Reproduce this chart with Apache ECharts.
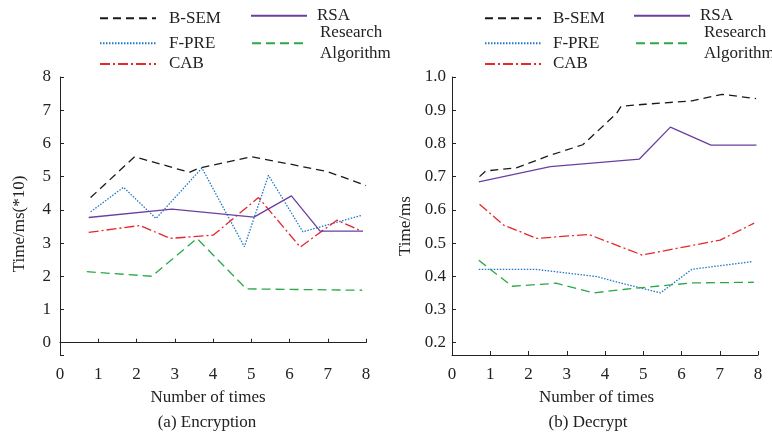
<!DOCTYPE html>
<html>
<head>
<meta charset="utf-8">
<script src="https://cdn.jsdelivr.net/npm/echarts@6/dist/echarts.min.js"></script>
<style>
html,body{margin:0;padding:0;background:#fff;}
#main{width:772px;height:433px;}
</style>
</head>
<body>
<div id="main"></div>
<script>
// ---- Data: [Number of times, Time] pairs ----
const seriesNames = ['B-SEM', 'F-PRE', 'CAB', 'RSA', 'Research Algorithm'];
const legendLabels = ['B-SEM', 'F-PRE', 'CAB', 'RSA', 'Research\nAlgorithm'];
const xTicks = [0, 1, 2, 3, 4, 5, 6, 7, 8];

// (a) Encryption, Time/ms(*10)
const encBSEM = [[0.8,4.37],[1.95,5.6],[3.38,5.13],[3.62,5.25],[5.0,5.6],[6.0,5.38],[7.0,5.15],[8.0,4.73]];
const encFPRE = [[0.8,3.94],[1.66,4.68],[2.51,3.74],[3.71,5.26],[4.82,2.89],[5.45,5.04],[6.35,3.34],[7.9,3.84]];
const encCAB = [[0.75,3.32],[2.09,3.53],[2.88,3.14],[4.01,3.24],[5.19,4.37],[6.28,2.88],[7.24,3.69],[7.9,3.35]];
const encRSA = [[0.75,3.77],[2.93,4.02],[5.07,3.78],[6.05,4.42],[6.8,3.36],[7.92,3.36]];
const encResearch = [[0.7,2.14],[2.4,2.0],[3.58,3.14],[4.87,1.62],[7.9,1.58]];

// (b) Decrypt, Time/ms
const decBSEM = [[0.72,0.70],[0.88,0.717],[1.7,0.727],[2.48,0.761],[3.42,0.796],[4.3,0.89],[4.42,0.912],[5.05,0.918],[6.27,0.928],[7.06,0.948],[7.95,0.935]];
const decFPRE = [[0.7,0.421],[2.18,0.421],[3.79,0.399],[4.4,0.38],[5.45,0.35],[6.27,0.421],[7.84,0.444]];
const decCAB = [[0.72,0.617],[1.35,0.554],[2.22,0.514],[3.57,0.526],[4.97,0.464],[7.01,0.509],[7.9,0.56]];
const decRSA = [[0.7,0.684],[2.57,0.73],[4.9,0.753],[5.71,0.849],[6.77,0.795],[7.96,0.795]];
const decResearch = [[0.7,0.448],[1.57,0.37],[2.74,0.379],[3.7,0.35],[4.53,0.361],[6.27,0.38],[7.89,0.382]];

const FONT = 'Liberation Serif';
const TXT = '#222';
const colors = ['#1a1a1a', '#1f78c8', '#e8262d', '#6b3fa0', '#2aa84a'];
const dashes = [[8,5], [1.5,1.5], [10,3,2,3], 'solid', [9,5]];

function mkSeries(name, data, idx, axisIdx) {
  const i = seriesNames.indexOf(name);
  return {
    name: name,
    type: 'line',
    xAxisIndex: axisIdx,
    yAxisIndex: axisIdx,
    data: data,
    symbol: 'none',
    smooth: false,
    animation: false,
    lineStyle: { color: colors[i], width: 1.3, type: dashes[i] },
    itemStyle: { color: colors[i] }
  };
}

const axisLineStyle = { lineStyle: { color: '#222', width: 1 } };

function mkXAxis(gridIndex, padRight) {
  return {
    type: 'value', gridIndex: gridIndex, min: 0, max: 8, interval: 1,
    name: 'Number of times', nameLocation: 'middle', nameGap: 34,
    nameTextStyle: { fontFamily: FONT, fontSize: 17, color: TXT, padding: [0, padRight, 0, 0] },
    axisLine: axisLineStyle,
    axisTick: { inside: true, length: 4, lineStyle: { color: '#222' } },
    axisLabel: { fontFamily: FONT, fontSize: 17, color: TXT, margin: 11,
      formatter: v => (xTicks.indexOf(Math.round(v)) >= 0 ? String(Math.round(v)) : '') },
    splitLine: { show: false }
  };
}

const option = {
  backgroundColor: '#fff',
  animation: false,
  grid: [
    { left: 60, right: 406, top: 77, bottom: 78 },
    { left: 452, right: 14, top: 77, bottom: 78 }
  ],
  xAxis: [ mkXAxis(0, 10), mkXAxis(1, 17) ],
  yAxis: [
    {
      type: 'value', gridIndex: 0, min: -0.37, max: 8, splitNumber: 8,
      name: 'Time/ms(*10)', nameLocation: 'middle', nameGap: 32, nameRotate: 90,
      nameTextStyle: { fontFamily: FONT, fontSize: 17, color: TXT, padding: [0, 16, 0, 0] },
      axisLine: { show: true, lineStyle: { color: '#222', width: 1 } },
      axisTick: { inside: true, length: 4, lineStyle: { color: '#222' } },
      axisLabel: { fontFamily: FONT, fontSize: 17, color: TXT, margin: 9,
        formatter: v => (v < -0.01 ? '' : String(Math.round(v))) },
      splitLine: { show: false }
    },
    {
      type: 'value', gridIndex: 1, min: 0.163, max: 1.0, splitNumber: 8,
      name: 'Time/ms', nameLocation: 'middle', nameGap: 38, nameRotate: 90,
      nameTextStyle: { fontFamily: FONT, fontSize: 17, color: TXT, padding: [0, 20, 0, 0] },
      axisLine: { show: true, lineStyle: { color: '#222', width: 1 } },
      axisTick: { inside: true, length: 4, lineStyle: { color: '#222' } },
      axisLabel: { fontFamily: FONT, fontSize: 17, color: TXT, margin: 6,
        formatter: v => (v < 0.19 ? '' : v.toFixed(1)) },
      splitLine: { show: false }
    }
  ],
  title: [
    { text: '(a) Encryption', left: 202, top: 409, textAlign: 'center',
      textStyle: { fontFamily: FONT, fontSize: 17, fontWeight: 'normal', color: TXT } },
    { text: '(b) Decrypt', left: 583, top: 409, textAlign: 'center',
      textStyle: { fontFamily: FONT, fontSize: 17, fontWeight: 'normal', color: TXT } }
  ],
  legend: [],
  series: [
    mkSeries('B-SEM', encBSEM, 0, 0),
    mkSeries('F-PRE', encFPRE, 1, 0),
    mkSeries('CAB', encCAB, 2, 0),
    mkSeries('RSA', encRSA, 3, 0),
    mkSeries('Research Algorithm', encResearch, 4, 0),
    mkSeries('B-SEM', decBSEM, 0, 1),
    mkSeries('F-PRE', decFPRE, 1, 1),
    mkSeries('CAB', decCAB, 2, 1),
    mkSeries('RSA', decRSA, 3, 1),
    mkSeries('Research Algorithm', decResearch, 4, 1)
  ]
};

// legend item placements (left edge of icon, vertical centre)
const legendPlaces = [
  // left chart
  { name: 'B-SEM', left: 99, cy: 18.3, pad: 8 },
  { name: 'F-PRE', left: 99, cy: 43.3, pad: 8 },
  { name: 'CAB', left: 99, cy: 64, pad: 8 },
  { name: 'RSA', left: 250, cy: 15.7, pad: 5 },
  { name: 'Research Algorithm', left: 251, cy: 43.3, pad: 7, two: true },
  // right chart
  { name: 'B-SEM', left: 484, cy: 18.3, pad: 7 },
  { name: 'F-PRE', left: 484, cy: 43.3, pad: 7 },
  { name: 'CAB', left: 484, cy: 64, pad: 7 },
  { name: 'RSA', left: 633, cy: 15.7, pad: 5 },
  { name: 'Research Algorithm', left: 635, cy: 43.3, pad: 7, two: true }
];
legendPlaces.forEach(p => {
  const lh = p.two ? 20.7 : 17;
  const h = p.two ? 2 * lh : lh;
  option.legend.push({
    data: [p.name],
    left: p.left,
    top: p.cy - h / 2,
    padding: 0,
    itemWidth: 56,
    itemHeight: 14,
    selectedMode: false,
    itemStyle: { opacity: 0, borderWidth: 0 },
    lineStyle: { opacity: 1 },
    formatter: n => legendLabels[seriesNames.indexOf(n)],
    textStyle: { fontFamily: FONT, fontSize: 17, color: TXT, lineHeight: lh, padding: [0, 0, 0, p.pad] }
  });
});

const chart = echarts.init(document.getElementById('main'), null, { renderer: 'canvas' });
chart.setOption(option);
</script>
</body>
</html>
